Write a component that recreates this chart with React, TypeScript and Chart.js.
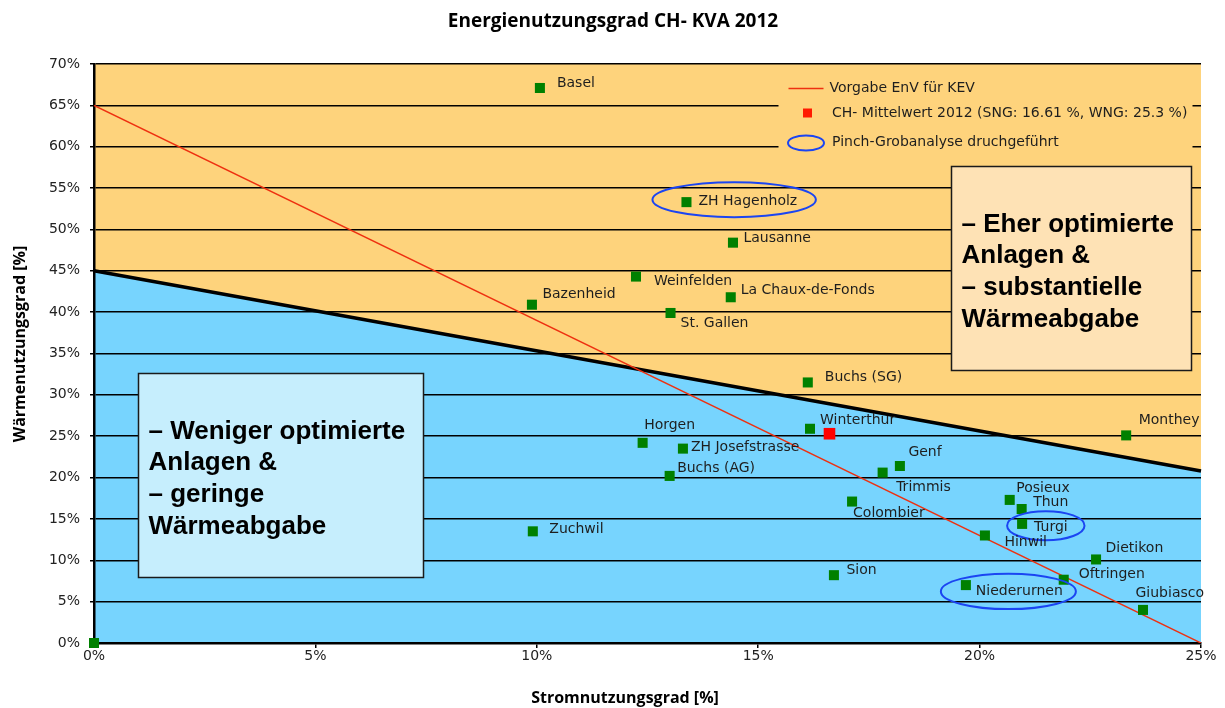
import React, { useEffect, useRef } from "react";
import { Chart, registerables } from "chart.js";

Chart.register(...registerables);

// ---------- DATA ----------
const plantNames = [
  "", "Basel", "ZH Hagenholz", "Lausanne", "Weinfelden", "La Chaux-de-Fonds", "Bazenheid",
  "St. Gallen", "Buchs (SG)", "Winterthur", "Horgen", "ZH Josefstrasse", "Buchs (AG)",
  "Trimmis", "Genf", "Colombier", "Zuchwil", "Sion", "Monthey", "Posieux", "Thun",
  "Turgi", "Hinwil", "Dietikon", "Oftringen", "Niederurnen", "Giubiasco",
];
// Stromnutzungsgrad (SNG) in %
const sngValues = [
  0, 10.07, 13.38, 14.43, 12.24, 14.38, 9.89,
  13.02, 16.12, 16.17, 12.39, 13.3, 13.0,
  17.81, 18.2, 17.12, 9.91, 16.71, 23.31, 20.68, 20.95,
  20.96, 20.12, 22.63, 21.9, 19.69, 23.69,
];
// Wärmenutzungsgrad (WNG) in %
const wngValues = [
  0, 67.1, 53.3, 48.4, 44.3, 41.8, 40.9,
  39.9, 31.5, 25.9, 24.2, 23.5, 20.2,
  20.6, 21.4, 17.1, 13.5, 8.2, 25.1, 17.3, 16.2,
  14.4, 13.0, 10.1, 7.65, 7.0, 4.0,
];
const pinchPlants = ["ZH Hagenholz", "Turgi", "Niederurnen"];

const meanSNG = [16.61];
const meanWNG = [25.3];
const meanLabel = "CH- Mittelwert 2012 (SNG: 16.61 %, WNG: 25.3 %)";

const vorgabeSNG = [0, 25];
const vorgabeWNG = [65, 0];
const vorgabeLabel = "Vorgabe EnV für KEV";

const grenzeSNG = [0, 25];
const grenzeWNG = [45, 20.8];

const pinchLabel = "Pinch-Grobanalyse druchgeführt";

const xTickValues = [0, 5, 10, 15, 20, 25];
const yTickValues = [0, 5, 10, 15, 20, 25, 30, 35, 40, 45, 50, 55, 60, 65, 70];

const titleText = "Energienutzungsgrad CH- KVA 2012";
const xTitleText = "Stromnutzungsgrad [%]";
const yTitleText = "Wärmenutzungsgrad [%]";

const leftBoxLines = ["– Weniger optimierte", "Anlagen &", "– geringe", "Wärmeabgabe"];
const rightBoxLines = ["– Eher optimierte", "Anlagen &", "– substantielle", "Wärmeabgabe"];

// ---------- LAYOUT / STYLE ----------
const ORANGE = "#FED37C";
const BLUE = "#77D4FE";
const LABEL_FONT = '14px "DejaVu Sans"';
const LABEL_COLOR = "#1e1e1e";

// label placement: [dx, dy] from point centre (text left, vertical middle)
const labelPlacement: Record<string, [number, number]> = {
  "Basel": [17, -5],
  "ZH Hagenholz": [12, -1],
  "Lausanne": [10.5, -4.5],
  "Weinfelden": [18, 4.5],
  "La Chaux-de-Fonds": [10, -6.5],
  "Bazenheid": [10.5, -10],
  "St. Gallen": [10, 10],
  "Buchs (SG)": [17, -5.5],
  "Winterthur": [10, -8.5],
  "Horgen": [1.5, -17.5],
  "ZH Josefstrasse": [8, -1],
  "Buchs (AG)": [7.5, -8],
  "Genf": [8.5, -13.5],
  "Trimmis": [13.5, 15],
  "Colombier": [1, 11.5],
  "Zuchwil": [16.5, -1.5],
  "Sion": [12.5, -4.5],
  "Monthey": [12.5, -15.5],
  "Posieux": [6.5, -11.5],
  "Thun": [11.5, -7],
  "Turgi": [12, 3.5],
  "Hinwil": [19.5, 7],
  "Dietikon": [9.5, -11],
  "Oftringen": [15, -5.5],
  "Niederurnen": [10, 6.5],
  "Giubiasco": [-7.5, -16.5],
};
// ellipse around pinch plants: [dx, dy, rx, ry] from point centre
const pinchEllipse: Record<string, [number, number, number, number]> = {
  "ZH Hagenholz": [47.7, -2.5, 81.7, 17.5],
  "Turgi": [23.7, 1.8, 38.7, 14.5],
  "Niederurnen": [42.5, 6.3, 67.5, 17.7],
};
// annotation boxes in data units
const leftBoxArea = { x0: 1.0, x1: 7.43, y0: 7.94, y1: 32.6 };
const rightBoxArea = { x0: 19.36, x1: 24.78, y0: 33.0, y1: 57.7 };
const legendArea = { x0: 15.45, x1: 24.8, y0: 58.5, y1: 69.3 };

export default function App() {
  const ref = useRef<HTMLCanvasElement>(null);

  useEffect(() => {
    document.body.style.margin = "0";
    const canvas = ref.current!;

    const decor = {
      id: "decor",
      beforeDraw(chart: any) {
        const { ctx, chartArea } = chart;
        const xs = chart.scales.x;
        const ys = chart.scales.y;
        ctx.save();
        ctx.fillStyle = ORANGE;
        ctx.fillRect(chartArea.left - 1, chartArea.top, chartArea.right - chartArea.left + 1, chartArea.bottom - chartArea.top);
        ctx.fillStyle = BLUE;
        ctx.beginPath();
        ctx.moveTo(xs.getPixelForValue(grenzeSNG[0]), ys.getPixelForValue(grenzeWNG[0]));
        ctx.lineTo(xs.getPixelForValue(grenzeSNG[1]), ys.getPixelForValue(grenzeWNG[1]));
        ctx.lineTo(xs.getPixelForValue(grenzeSNG[1]), ys.getPixelForValue(0));
        ctx.lineTo(xs.getPixelForValue(grenzeSNG[0]), ys.getPixelForValue(0));
        ctx.closePath();
        ctx.fill();
        ctx.restore();
      },
      beforeDatasetsDraw(chart: any) {
        const { ctx } = chart;
        const xs = chart.scales.x;
        const ys = chart.scales.y;
        const box = (a: any, fill: string, border: boolean, lines: string[]) => {
          const l = Math.round(xs.getPixelForValue(a.x0)) + 0.5;
          const r = Math.round(xs.getPixelForValue(a.x1)) + 0.5;
          const t = Math.round(ys.getPixelForValue(a.y1)) + 0.5;
          const b = Math.round(ys.getPixelForValue(a.y0)) + 0.5;
          ctx.save();
          ctx.fillStyle = fill;
          ctx.fillRect(l, t, r - l, b - t);
          if (border) {
            ctx.strokeStyle = "#1a1a1a";
            ctx.lineWidth = 1.5;
            ctx.strokeRect(l, t, r - l, b - t);
          }
          ctx.fillStyle = "#000";
          ctx.font = 'bold 26px "Liberation Sans"';
          ctx.textAlign = "left";
          ctx.textBaseline = "alphabetic";
          lines.forEach((s, i) => ctx.fillText(s, l + 10, t + 65 + i * 31.7));
          ctx.restore();
          return { l, t, r, b };
        };
        box(leftBoxArea, "#C6EEFD", true, leftBoxLines);
        box(rightBoxArea, "#FEE2B5", true, rightBoxLines);

        // legend
        const lg = box(legendArea, ORANGE, false, []);
        ctx.save();
        ctx.font = LABEL_FONT;
        ctx.fillStyle = LABEL_COLOR;
        ctx.textBaseline = "middle";
        ctx.textAlign = "left";
        ctx.strokeStyle = "#EE3010";
        ctx.lineWidth = 1.5;
        ctx.beginPath();
        ctx.moveTo(lg.l + 10, lg.t + 18);
        ctx.lineTo(lg.l + 45, lg.t + 18);
        ctx.stroke();
        ctx.fillText(vorgabeLabel, lg.l + 51, lg.t + 18);
        ctx.fillStyle = "#FF1A00";
        ctx.fillRect(lg.l + 24.5, lg.t + 38, 9, 9);
        ctx.fillStyle = LABEL_COLOR;
        ctx.fillText(meanLabel, lg.l + 53.5, lg.t + 42.5);
        ctx.strokeStyle = "#1B45F2";
        ctx.lineWidth = 2;
        ctx.beginPath();
        ctx.ellipse(lg.l + 27.5, lg.t + 72.5, 18, 7.5, 0, 0, Math.PI * 2);
        ctx.stroke();
        ctx.fillText(pinchLabel, lg.l + 53.5, lg.t + 71.5);
        ctx.restore();
      },
      afterDatasetsDraw(chart: any) {
        const { ctx } = chart;
        const meta = chart.getDatasetMeta(0);
        ctx.save();
        ctx.font = LABEL_FONT;
        ctx.fillStyle = LABEL_COLOR;
        ctx.textAlign = "left";
        ctx.textBaseline = "middle";
        plantNames.forEach((name, i) => {
          const el = meta.data[i];
          if (!el || !name) return;
          const p = labelPlacement[name] || [10, 0];
          ctx.fillText(name, el.x + p[0], el.y + p[1]);
          if (pinchPlants.includes(name)) {
            const e = pinchEllipse[name];
            ctx.save();
            ctx.strokeStyle = "#1B45F2";
            ctx.lineWidth = 2;
            ctx.beginPath();
            ctx.ellipse(el.x + e[0], el.y + e[1], e[2], e[3], 0, 0, Math.PI * 2);
            ctx.stroke();
            ctx.restore();
          }
        });
        ctx.restore();
      },
      afterDraw(chart: any) {
        const { ctx } = chart;
        ctx.save();
        ctx.fillStyle = "#000";
        ctx.textAlign = "center";
        ctx.textBaseline = "middle";
        ctx.font = 'bold 19px "Open Sans"';
        ctx.fillText(titleText, 613, 22);
        ctx.font = 'bold 16px "Open Sans"';
        ctx.fillText(xTitleText, 625, 698);
        ctx.translate(20, 344);
        ctx.rotate(-Math.PI / 2);
        ctx.fillText(yTitleText, 0, 0);
        ctx.restore();
      },
    };

    const chart = new Chart(canvas, {
      type: "scatter",
      data: {
        datasets: [
          {
            label: "KVA",
            data: sngValues.map((x, i) => ({ x, y: wngValues[i] })),
            backgroundColor: "#008000",
            borderWidth: 0,
            pointStyle: "rect",
            pointRadius: 7.1,
            clip: false,
          } as any,
          {
            label: meanLabel,
            data: meanSNG.map((x, i) => ({ x, y: meanWNG[i] })),
            backgroundColor: "#FF0000",
            borderWidth: 0,
            pointStyle: "rect",
            pointRadius: 8.2,
          },
          {
            label: vorgabeLabel,
            data: vorgabeSNG.map((x, i) => ({ x, y: vorgabeWNG[i] })),
            showLine: true,
            borderColor: "#EE3010",
            borderWidth: 1.5,
            pointRadius: 0,
            fill: false,
          },
          {
            label: "Grenze",
            data: grenzeSNG.map((x, i) => ({ x, y: grenzeWNG[i] })),
            showLine: true,
            borderColor: "#000",
            borderWidth: 3.5,
            pointRadius: 0,
            fill: false,
            clip: false,
          } as any,
        ],
      },
      options: {
        responsive: false,
        animation: false,
        devicePixelRatio: 1,
        events: [],
        layout: { padding: { top: 64, right: 24, left: 0, bottom: 0 } },
        plugins: {
          legend: { display: false },
          title: { display: false },
          tooltip: { enabled: false },
        },
        scales: {
          x: {
            type: "linear",
            min: 0,
            max: 25,
            afterFit: (s: any) => { s.height = 65; },
            afterBuildTicks: (s: any) => { s.ticks = xTickValues.map((v) => ({ value: v })); },
            ticks: {
              callback: (v: any) => v + "%",
              color: "#222",
              font: { family: "DejaVu Sans", size: 14 },
              padding: 0,
              maxRotation: 0,
            },
            grid: { drawOnChartArea: false, drawTicks: true, tickLength: 5, color: "#000", lineWidth: 1.5 },
            border: { display: true, color: "#000", width: 2.5 },
          },
          y: {
            type: "linear",
            min: 0,
            max: 70,
            afterFit: (s: any) => { s.width = 94; },
            afterBuildTicks: (s: any) => { s.ticks = yTickValues.map((v) => ({ value: v })); },
            ticks: {
              callback: (v: any) => v + "%",
              color: "#222",
              font: { family: "DejaVu Sans", size: 14 },
              padding: 10,
            },
            grid: { drawOnChartArea: true, drawTicks: true, tickLength: 4, color: "#000", lineWidth: 1.5 },
            border: { display: true, color: "#000", width: 2.5 },
          },
        },
      },
      plugins: [decor],
    } as any);

    return () => chart.destroy();
  }, []);

  return (
    <div style={{ width: 1225, height: 708, background: "#fff" }}>
      <canvas ref={ref} width={1225} height={708} style={{ display: "block" }} />
    </div>
  );
}
